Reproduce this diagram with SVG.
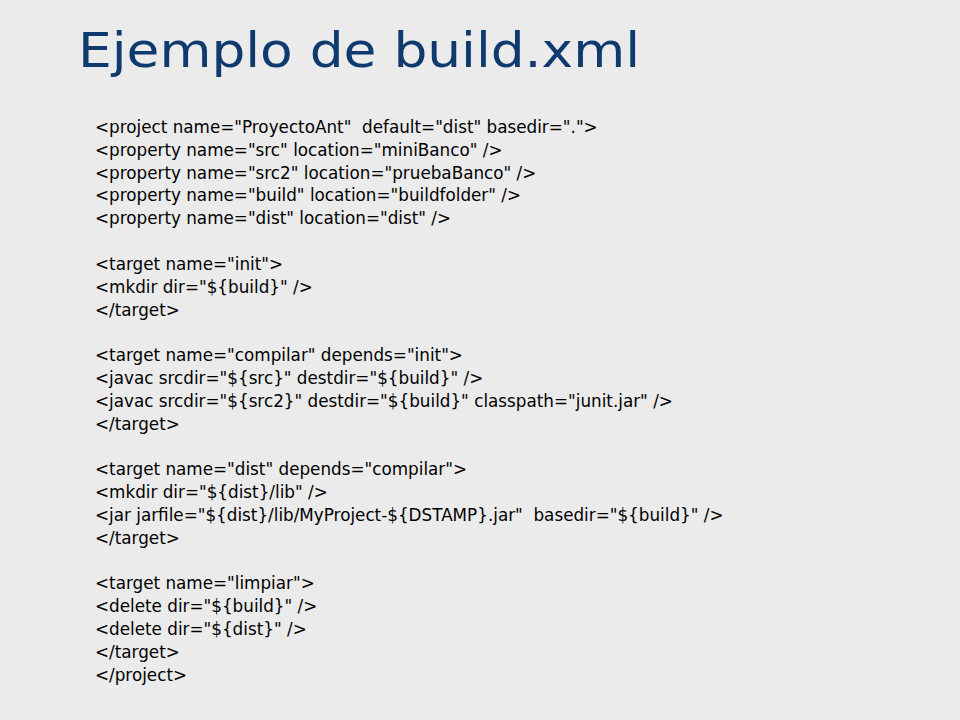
<svg xmlns="http://www.w3.org/2000/svg" width="960" height="720" viewBox="0 0 960 720">
<style>
.t{font-family:"DejaVu Sans",Verdana,sans-serif;font-size:48px;fill:#0e3a6d}
.c{font-family:"DejaVu Sans",Verdana,sans-serif;font-size:16.8px;fill:#000;white-space:pre}
</style>
<rect width="960" height="720" fill="#ebebeb"/>
<text class="t" x="78" y="67" textLength="562" lengthAdjust="spacingAndGlyphs">Ejemplo de build.xml</text>
<g id="code">
<text class="c" x="95" y="133">&lt;project name="ProyectoAnt"  default="dist" basedir="."&gt;</text>
<text class="c" x="95" y="156">&lt;property name="src" location="miniBanco" /&gt;</text>
<text class="c" x="95" y="179">&lt;property name="src2" location="pruebaBanco" /&gt;</text>
<text class="c" x="95" y="201">&lt;property name="build" location="buildfolder" /&gt;</text>
<text class="c" x="95" y="224">&lt;property name="dist" location="dist" /&gt;</text>
<text class="c" x="95" y="270">&lt;target name="init"&gt;</text>
<text class="c" x="95" y="293">&lt;mkdir dir="${build}" /&gt;</text>
<text class="c" x="95" y="316">&lt;/target&gt;</text>
<text class="c" x="95" y="361">&lt;target name="compilar" depends="init"&gt;</text>
<text class="c" x="95" y="384">&lt;javac srcdir="${src}" destdir="${build}" /&gt;</text>
<text class="c" x="95" y="407">&lt;javac srcdir="${src2}" destdir="${build}" classpath="junit.jar" /&gt;</text>
<text class="c" x="95" y="430">&lt;/target&gt;</text>
<text class="c" x="95" y="475">&lt;target name="dist" depends="compilar"&gt;</text>
<text class="c" x="95" y="498">&lt;mkdir dir="${dist}/lib" /&gt;</text>
<text class="c" x="95" y="521">&lt;jar jarfile="${dist}/lib/MyProject-${DSTAMP}.jar"  basedir="${build}" /&gt;</text>
<text class="c" x="95" y="544">&lt;/target&gt;</text>
<text class="c" x="95" y="589">&lt;target name="limpiar"&gt;</text>
<text class="c" x="95" y="612">&lt;delete dir="${build}" /&gt;</text>
<text class="c" x="95" y="635">&lt;delete dir="${dist}" /&gt;</text>
<text class="c" x="95" y="658">&lt;/target&gt;</text>
<text class="c" x="95" y="681">&lt;/project&gt;</text>
</g>
</svg>
